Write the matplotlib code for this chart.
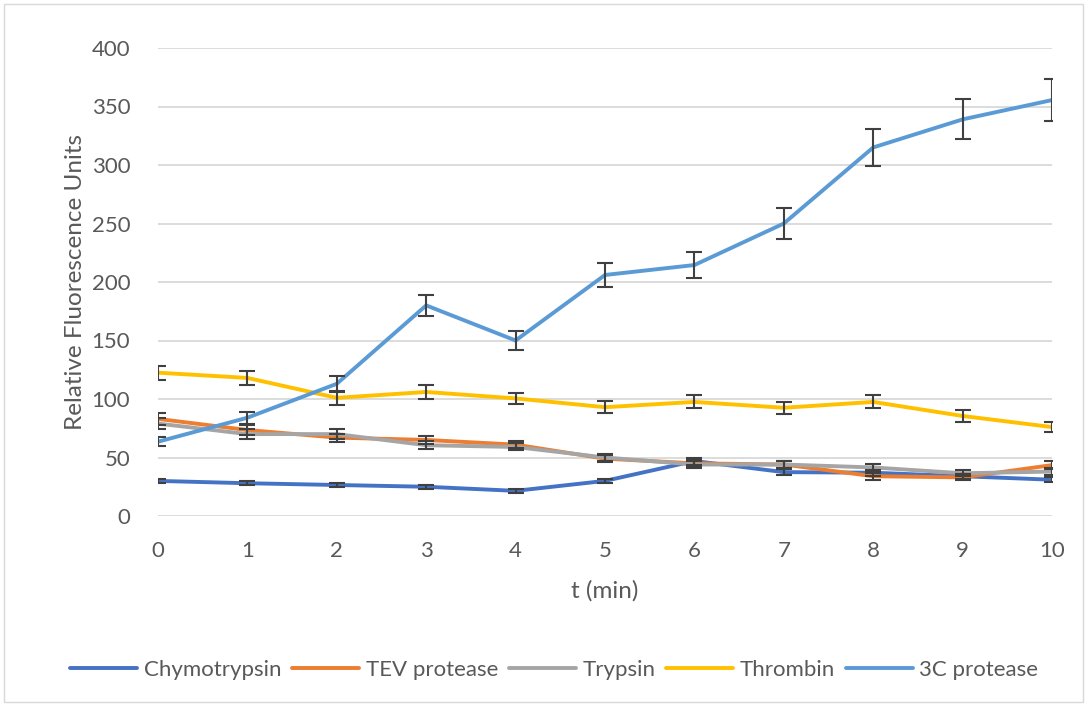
import matplotlib
matplotlib.use('Agg')
import matplotlib.pyplot as plt
from matplotlib.patches import Rectangle

plt.rcParams['font.family'] = ['Lato', 'DejaVu Sans']

t_min = [0, 1, 2, 3, 4, 5, 6, 7, 8, 9, 10]

chymotrypsin = [30, 28, 26.5, 25, 21.5, 30, 47, 37.5, 37, 34, 31]
chymotrypsin_err = [2, 1.5, 1.5, 1.5, 1.5, 2, 3, 2.5, 2.5, 2, 2]

tev = [83, 73.5, 67, 65, 61, 49, 45, 44, 34, 33, 43.5]
tev_err = [5, 4, 3.5, 3.5, 3, 3, 3, 3, 3, 2.5, 3.5]

trypsin = [79, 70, 70, 60.5, 59, 50, 44, 44, 41.5, 36.5, 38]
trypsin_err = [5, 4, 4, 3.5, 3, 3, 3, 3, 3, 2.5, 3]

thrombin = [122.5, 118, 101, 106, 100.5, 93, 97.5, 92.5, 97.5, 85.5, 76]
thrombin_err = [6, 6, 6, 6, 5, 5, 5.5, 5, 5.5, 5, 4]

c3_protease = [63.5, 84, 113, 180, 150, 206, 214.5, 250, 315, 339, 355.5]
c3_err = [4, 5, 7, 9, 8, 10.5, 11, 13, 16, 17, 18]

series = [
    ('Chymotrypsin', chymotrypsin, chymotrypsin_err, '#4472C4'),
    ('TEV protease', tev, tev_err, '#ED7D31'),
    ('Trypsin', trypsin, trypsin_err, '#A5A5A5'),
    ('Thrombin', thrombin, thrombin_err, '#FFC000'),
    ('3C protease', c3_protease, c3_err, '#5B9BD5'),
]

fig = plt.figure(figsize=(10.87, 7.05), dpi=100)
fig.patches.append(Rectangle((0.004, 0.004), 0.992, 0.99, transform=fig.transFigure,
                             fill=False, edgecolor='#D9D9D9', linewidth=1))

ax = fig.add_axes([158 / 1087, 1 - 516 / 705, (1052 - 158) / 1087, (516 - 48) / 705])

for name, vals, err, color in series:
    ax.plot(t_min, vals, color=color, linewidth=2.8, label=name, solid_capstyle='round',
            solid_joinstyle='round', zorder=3)
    ax.errorbar(t_min, vals, yerr=err, fmt='none', ecolor='#404040', elinewidth=1.5,
                capsize=5.5, capthick=1.5, zorder=4)

ax.set_xlim(0, 10)
ax.set_ylim(0, 400)
ax.set_xticks(t_min)
ax.set_yticks(range(0, 401, 50))
ax.grid(axis='y', color='#D9D9D9', linewidth=1.3)
ax.set_axisbelow(True)
for side in ['top', 'right', 'left', 'bottom']:
    ax.spines[side].set_visible(False)
ax.tick_params(length=0, labelsize=16, labelcolor='#595959')
ax.tick_params(axis='x', pad=18)
ax.tick_params(axis='y', pad=20)

ax.set_xlabel('t (min)', fontsize=17.5, color='#595959', labelpad=14)
ax.set_ylabel('Relative Fluorescence Units', fontsize=17.5, color='#595959', labelpad=4)

fig.legend(loc='center', bbox_to_anchor=(0.51, 1 - 670 / 705), ncol=5, frameon=False,
           fontsize=16, labelcolor='#595959', handlelength=3.0, columnspacing=0.5,
           handletextpad=0.3)

fig.savefig('out.png', dpi=100)
